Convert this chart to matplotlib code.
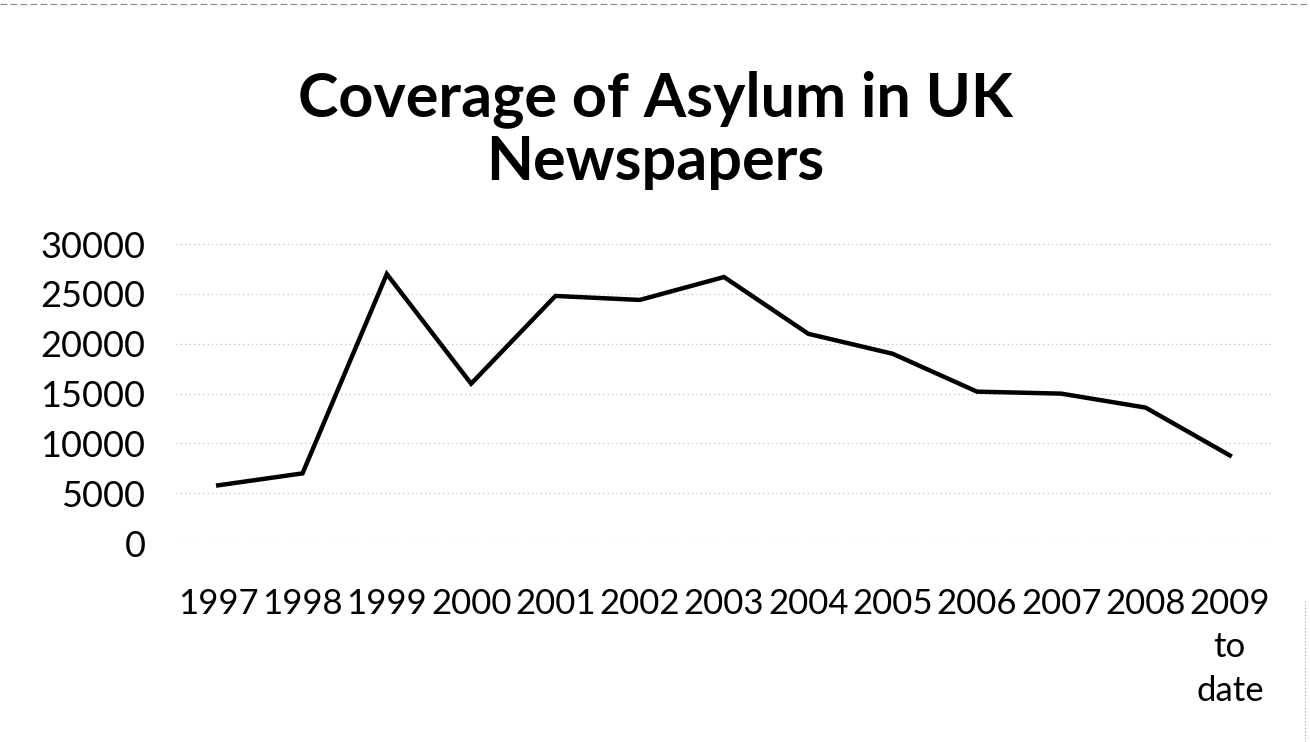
import matplotlib.pyplot as plt

# data
years = ["1997", "1998", "1999", "2000", "2001", "2002", "2003",
         "2004", "2005", "2006", "2007", "2008", "2009\nto\ndate"]
articles = [5800, 7000, 27000, 16000, 24800, 24400, 26700,
            21000, 19000, 15200, 15000, 13600, 8800]
yticks = [0, 5000, 10000, 15000, 20000, 25000, 30000]

plt.rcParams['font.family'] = ['Lato', 'DejaVu Sans']

fig = plt.figure(figsize=(13.1, 7.42), dpi=100)
ax = fig.add_axes([0.1344, 0.268, 0.8366, 0.403])

x = list(range(len(years)))
ax.plot(x, articles, color="black", linewidth=3.2, solid_joinstyle="miter")

ax.set_xlim(-0.5, len(years) - 0.5)
ax.set_ylim(0, 30000)
ax.set_yticks(yticks)
ax.set_yticklabels([str(v) for v in yticks], fontsize=26)
ax.set_xticks(x)
ax.set_xticklabels(years, fontsize=25, linespacing=1.45, va="top")
ax.tick_params(length=0)
ax.tick_params(axis="y", pad=22)
ax.tick_params(axis="x", pad=32)

ax.grid(axis="y", color="#b8b8b8", linestyle=(0, (1, 3)), linewidth=0.8)
for s in ax.spines.values():
    s.set_visible(False)

fig.suptitle("Coverage of Asylum in UK\nNewspapers", fontsize=44,
             fontweight="bold", y=0.905, linespacing=1.12, va="top")

# scan artefacts: faint dashed rule along the top edge, dotted edge at right
fig.add_artist(plt.Line2D([0, 1], [0.994, 0.994], color="#888888",
                          linewidth=0.8, linestyle=(0, (6, 3))))
fig.add_artist(plt.Line2D([0.996, 0.996], [0.0, 0.19], color="#999999",
                          linewidth=0.8, linestyle=(0, (1, 2))))

fig.savefig("out.png", dpi=100)
